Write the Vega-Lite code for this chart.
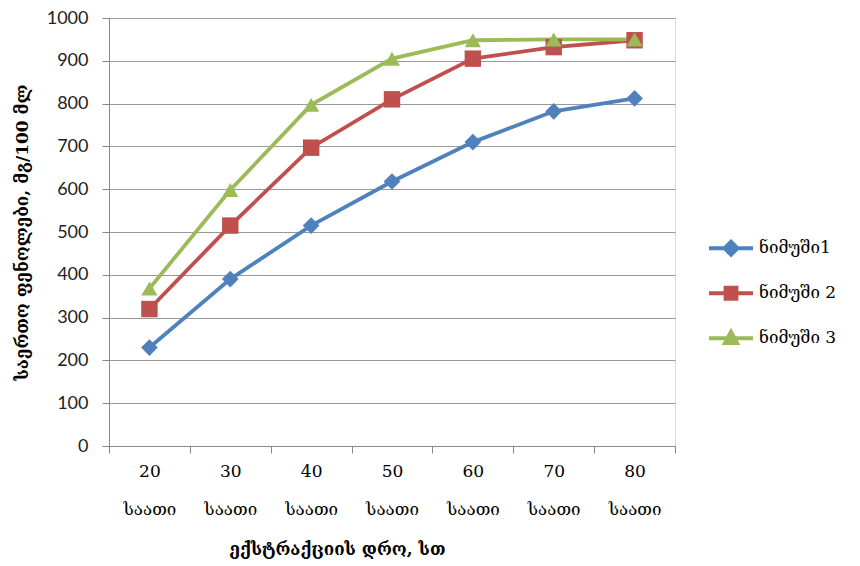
{
  "$schema": "https://vega.github.io/schema/vega-lite/v6.json",
  "width": 566,
  "height": 428,
  "autosize": "none",
  "padding": {"left": 109, "top": 18, "right": 185, "bottom": 120},
  "background": "white",
  "config": {
    "view": {"stroke": "#d9d9d9", "strokeWidth": 1}
  },
  "data": {
    "values": [
      {"time": "20", "series": "ნიმუში1", "value": 230},
      {"time": "30", "series": "ნიმუში1", "value": 390},
      {"time": "40", "series": "ნიმუში1", "value": 515},
      {"time": "50", "series": "ნიმუში1", "value": 618},
      {"time": "60", "series": "ნიმუში1", "value": 710},
      {"time": "70", "series": "ნიმუში1", "value": 782},
      {"time": "80", "series": "ნიმუში1", "value": 812},
      {"time": "20", "series": "ნიმუში 2", "value": 320},
      {"time": "30", "series": "ნიმუში 2", "value": 515},
      {"time": "40", "series": "ნიმუში 2", "value": 697},
      {"time": "50", "series": "ნიმუში 2", "value": 810},
      {"time": "60", "series": "ნიმუში 2", "value": 905},
      {"time": "70", "series": "ნიმუში 2", "value": 932},
      {"time": "80", "series": "ნიმუში 2", "value": 948},
      {"time": "20", "series": "ნიმუში 3", "value": 368},
      {"time": "30", "series": "ნიმუში 3", "value": 598},
      {"time": "40", "series": "ნიმუში 3", "value": 797},
      {"time": "50", "series": "ნიმუში 3", "value": 905},
      {"time": "60", "series": "ნიმუში 3", "value": 948},
      {"time": "70", "series": "ნიმუში 3", "value": 950},
      {"time": "80", "series": "ნიმუში 3", "value": 950}
    ]
  },
  "encoding": {
    "x": {
      "field": "time",
      "type": "ordinal",
      "sort": ["20", "30", "40", "50", "60", "70", "80"],
      "scale": {"type": "band", "paddingInner": 0, "paddingOuter": 0},
      "axis": {
        "title": "ექსტრაქციის დრო, სთ",
        "titleFont": "DejaVu Serif",
        "titleFontSize": 17,
        "titleFontWeight": "bold",
        "titleColor": "#000000",
        "titleX": 228,
        "titleY": 103,
        "titleBaseline": "middle",
        "titleAnchor": "middle",
        "labelExpr": "datum.label ? [datum.label, 'საათი'] : ''",
        "labelFont": "DejaVu Serif",
        "labelFontSize": 17,
        "labelColor": "#000000",
        "labelLineHeight": 38,
        "labelAngle": 0,
        "labelAlign": "center",
        "labelFlush": false,
        "labelOverlap": false,
        "labelPadding": 10,
        "labelBaseline": "top",
        "tickBand": "extent",
        "tickSize": 7,
        "tickColor": "#888888",
        "domainColor": "#888888",
        "grid": false
      }
    },
    "y": {
      "field": "value",
      "type": "quantitative",
      "scale": {"domain": [0, 1000], "nice": false},
      "axis": {
        "title": "საერთო ფენოლები, მგ/100 მლ",
        "titleFont": "DejaVu Serif",
        "titleFontSize": 17,
        "titleFontWeight": "bold",
        "titleColor": "#000000",
        "titleX": -87,
        "titleBaseline": "middle",
        "values": [0, 100, 200, 300, 400, 500, 600, 700, 800, 900, 1000],
        "format": "d",
        "labelFont": "Lato",
        "labelFontSize": 18,
        "labelColor": "#222222",
        "labelPadding": 14,
        "tickSize": 7,
        "tickColor": "#888888",
        "domainColor": "#888888",
        "gridColor": "#999999",
        "gridWidth": 1
      }
    },
    "color": {
      "field": "series",
      "type": "nominal",
      "scale": {
        "domain": ["ნიმუში1", "ნიმუში 2", "ნიმუში 3"],
        "range": ["#4F81BD", "#C0504D", "#9BBB59"]
      },
      "legend": {
        "title": null,
        "orient": "none",
        "legendX": 598,
        "legendY": 209,
        "symbolSize": 1936,
        "clipHeight": 42.5,
        "labelFont": "DejaVu Serif",
        "labelFontSize": 17,
        "labelColor": "#000000",
        "labelOffset": 4,
        "encode": {
          "symbols": {
            "update": {
              "shape": {"signal": "datum.value === 'ნიმუში1' ? 'M-1,0H1M0,-0.3L0.3,0L0,0.3L-0.3,0Z' : datum.value === 'ნიმუში 2' ? 'M-1,0H1M-0.25,-0.25H0.25V0.25H-0.25Z' : 'M-1,0H1M0,-0.3L0.28,0.22H-0.28Z'"},
              "fill": {"scale": "color", "field": "value"},
              "stroke": {"scale": "color", "field": "value"},
              "strokeWidth": {"value": 3.8},
              "opacity": {"value": 1}
            }
          }
        }
      }
    }
  },
  "layer": [
    {
      "mark": {"type": "line", "strokeWidth": 3.8}
    },
    {
      "transform": [{"filter": "datum.series === 'ნიმუში1'"}],
      "mark": {"type": "point", "filled": true, "opacity": 1, "size": 280, "shape": "diamond"}
    },
    {
      "transform": [{"filter": "datum.series === 'ნიმუში 2'"}],
      "mark": {"type": "point", "filled": true, "opacity": 1, "size": 270, "shape": "square"}
    },
    {
      "transform": [{"filter": "datum.series === 'ნიმუში 3'"}],
      "mark": {"type": "point", "filled": true, "opacity": 1, "size": 260, "shape": "triangle-up"}
    }
  ]
}
